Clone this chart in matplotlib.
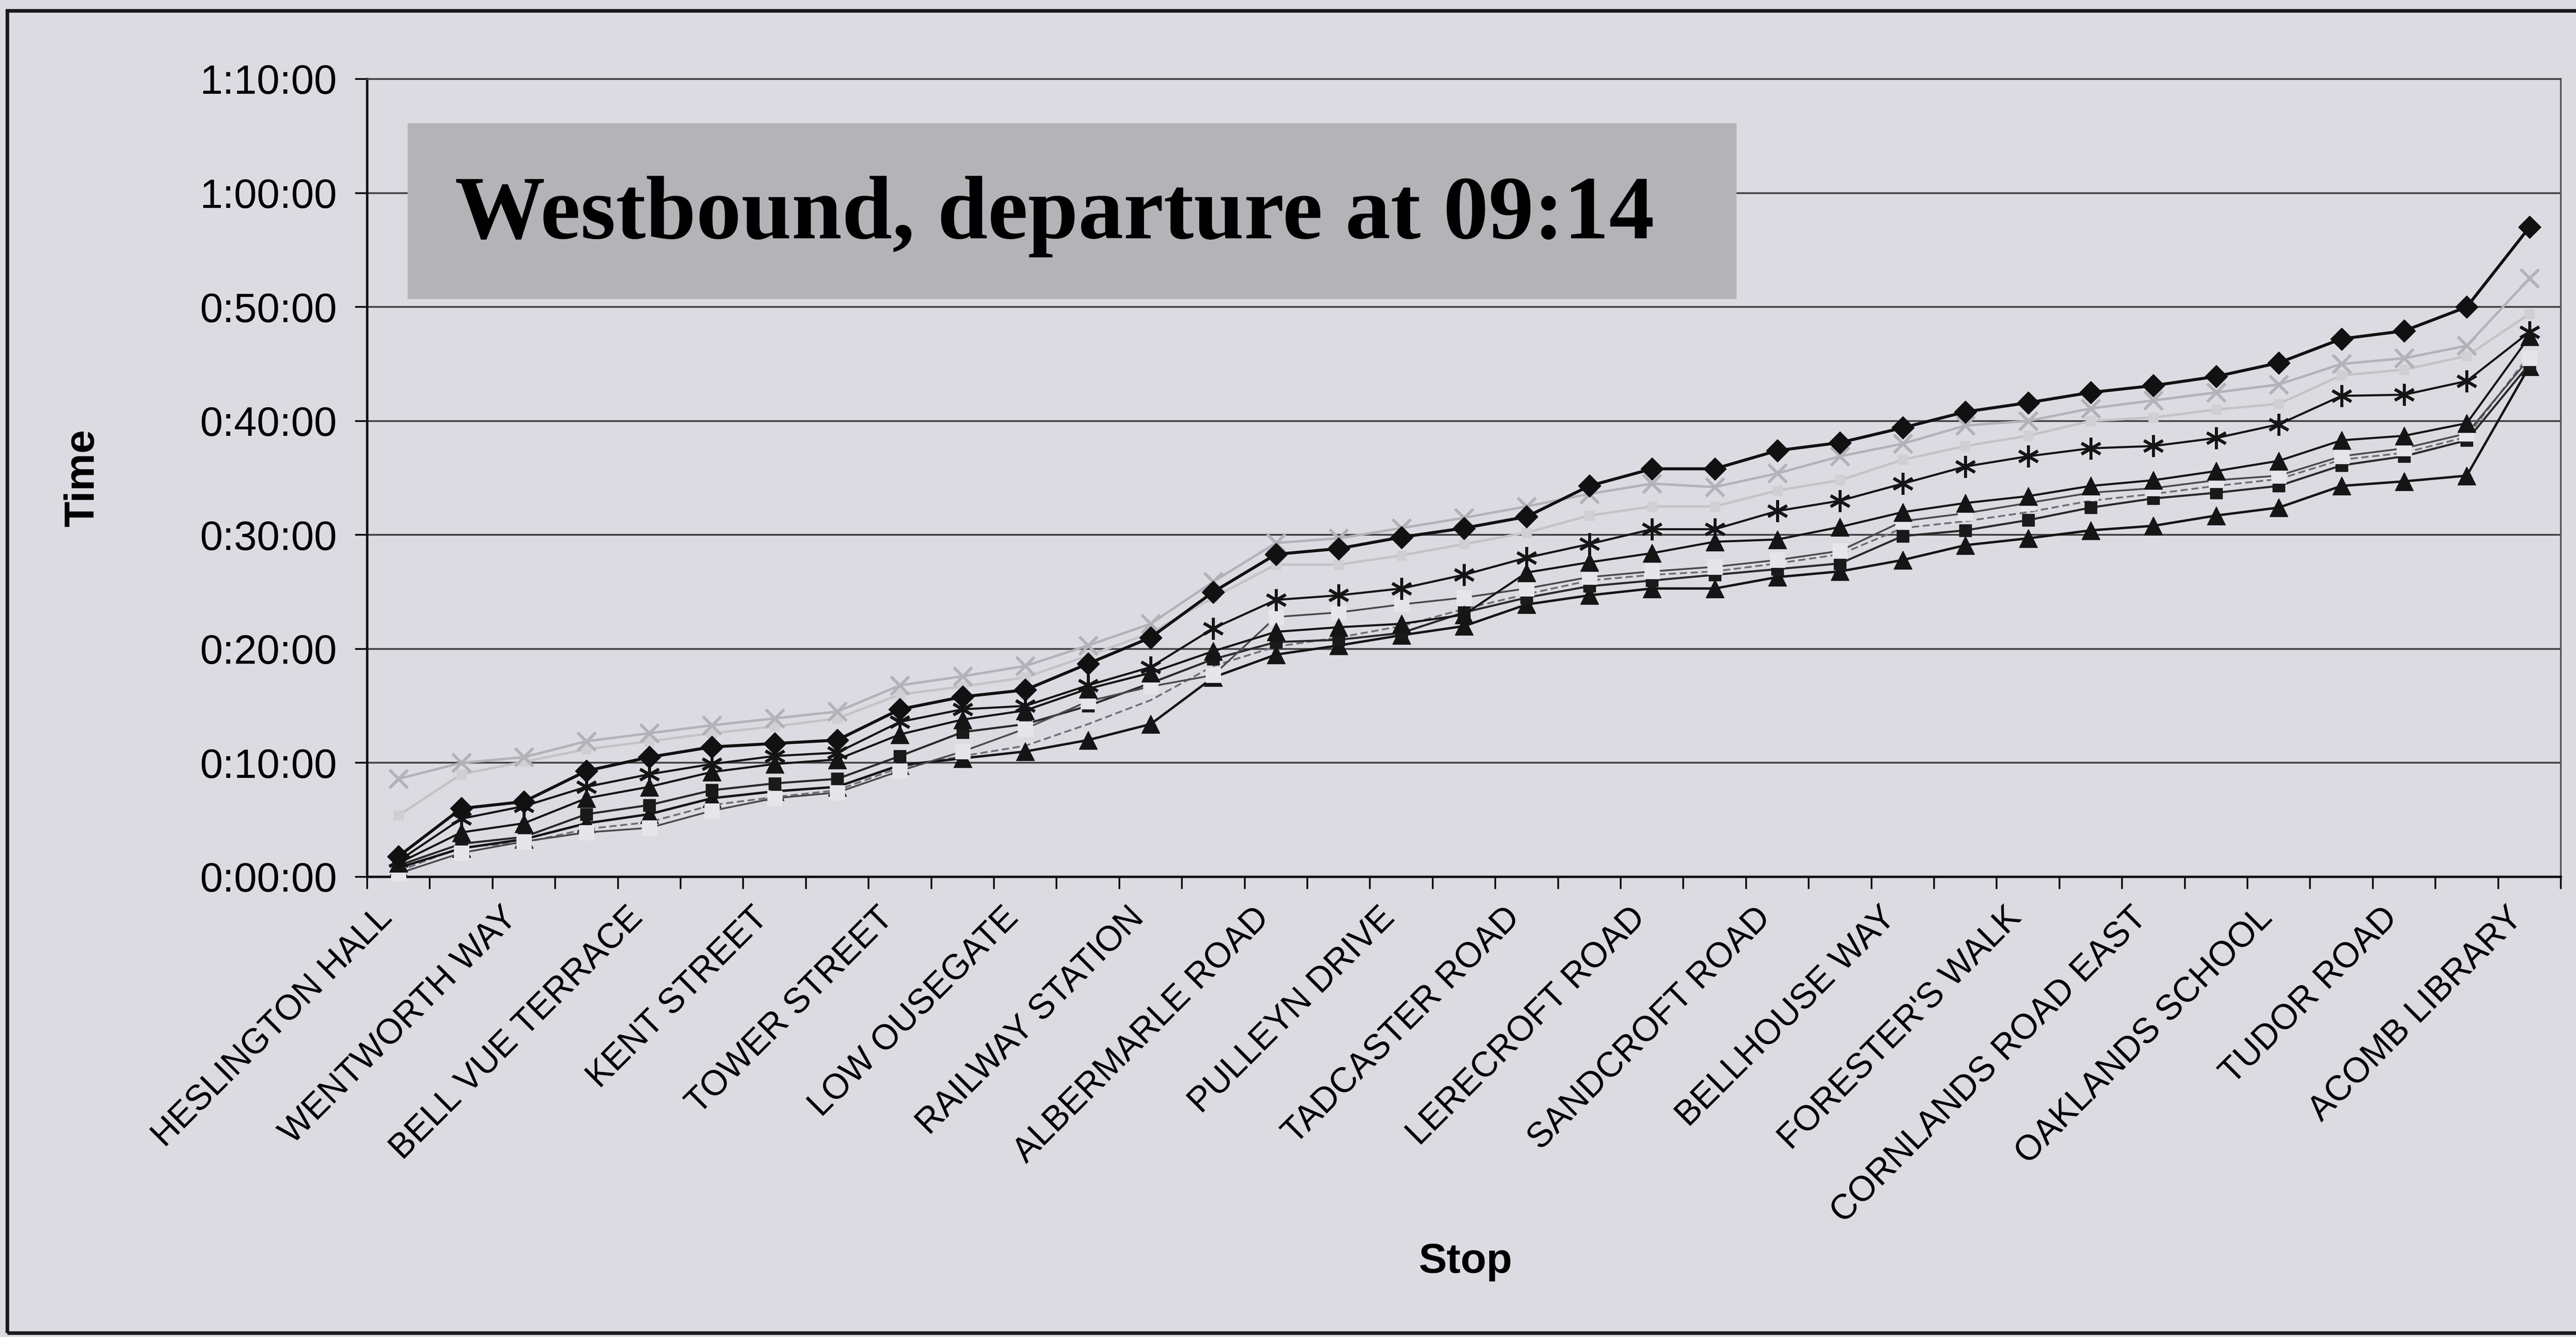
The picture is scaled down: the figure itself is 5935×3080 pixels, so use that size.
import numpy as np
import matplotlib.pyplot as plt
from matplotlib.patches import Rectangle
from matplotlib.ticker import FuncFormatter

# stops along the route (only every second stop is named on the axis)
n_stops = 35
stop_labels = ["HESLINGTON HALL", "WENTWORTH WAY", "BELL VUE TERRACE", "KENT STREET",
               "TOWER STREET", "LOW OUSEGATE", "RAILWAY STATION", "ALBERMARLE ROAD",
               "PULLEYN DRIVE", "TADCASTER ROAD", "LERECROFT ROAD", "SANDCROFT ROAD",
               "BELLHOUSE WAY", "FORESTER'S WALK", "CORNLANDS ROAD EAST", "OAKLANDS SCHOOL",
               "TUDOR ROAD", "ACOMB LIBRARY"]

# elapsed minutes at each stop, one list per observed run
run_1 = [1.8, 6.0, 6.6, 9.3, 10.5, 11.4, 11.7, 12.0, 14.7, 15.8, 16.4, 18.7, 21.0, 25.0, 28.3,
         28.8, 29.8, 30.6, 31.6, 34.3, 35.8, 35.8, 37.4, 38.1, 39.4, 40.8, 41.6, 42.5, 43.1,
         43.9, 45.1, 47.2, 47.9, 50.0, 57.0]
run_2 = [8.6, 10.0, 10.5, 11.9, 12.6, 13.3, 13.9, 14.5, 16.8, 17.6, 18.5, 20.3, 22.2, 25.9, 29.3,
         29.7, 30.6, 31.5, 32.5, 33.6, 34.5, 34.2, 35.4, 36.9, 38.0, 39.6, 40.0, 41.1, 41.8,
         42.5, 43.2, 45.0, 45.5, 46.6, 52.5]
run_3 = [5.4, 9.0, 10.1, 11.2, 11.9, 12.6, 13.2, 13.9, 16.0, 16.7, 17.5, 19.4, 21.4, 24.5, 27.4,
         27.4, 28.2, 29.2, 30.2, 31.7, 32.5, 32.5, 33.9, 34.8, 36.6, 37.8, 38.7, 40.0, 40.3,
         41.0, 41.5, 44.0, 44.5, 45.7, 49.4]
run_4 = [1.4, 5.1, 6.2, 7.9, 9.0, 9.9, 10.6, 10.9, 13.6, 14.7, 15.0, 16.8, 18.4, 21.8, 24.3,
         24.7, 25.3, 26.5, 28.0, 29.2, 30.5, 30.5, 32.1, 33.0, 34.5, 36.0, 36.9, 37.6, 37.8,
         38.5, 39.7, 42.2, 42.3, 43.5, 47.8]
run_5 = [1.2, 3.9, 4.7, 6.9, 7.9, 9.2, 9.9, 10.3, 12.5, 13.8, 14.6, 16.5, 17.9, 19.8, 21.5,
         21.9, 22.2, 23.0, 26.7, 27.6, 28.4, 29.4, 29.6, 30.7, 32.0, 32.8, 33.4, 34.3, 34.8,
         35.6, 36.5, 38.3, 38.7, 39.8, 47.4]
run_6 = [0.3, 2.1, 3.1, 3.9, 4.3, 5.8, 6.9, 7.4, 9.3, 11.0, 13.0, 15.4, 16.7, 17.7, 22.8,
         23.2, 23.9, 24.5, 25.3, 26.3, 26.8, 27.2, 27.8, 28.6, 31.2, 31.9, 32.8, 33.7, 34.1,
         34.8, 35.2, 36.9, 37.6, 38.9, 45.5]
run_7 = [1.0, 2.9, 3.5, 5.5, 6.3, 7.6, 8.2, 8.6, 10.6, 12.7, 13.4, 15.0, 17.0, 19.1, 20.6,
         20.8, 21.4, 23.2, 24.5, 25.5, 26.0, 26.5, 27.0, 27.5, 29.9, 30.4, 31.3, 32.4, 33.2,
         33.7, 34.3, 36.1, 36.9, 38.3, 45.0]
run_8 = [0.8, 2.5, 3.3, 4.7, 5.5, 6.9, 7.5, 7.9, 9.8, 10.4, 11.0, 12.0, 13.4, 17.5, 19.5,
         20.3, 21.2, 22.0, 23.9, 24.7, 25.3, 25.3, 26.3, 26.8, 27.8, 29.1, 29.7, 30.4, 30.8,
         31.7, 32.4, 34.3, 34.7, 35.2, 44.8]
run_9 = [0.5, 2.6, 3.0, 4.2, 4.8, 6.3, 7.0, 7.6, 9.6, 10.6, 11.5, 13.4, 15.5, 18.5, 20.2,
         21.0, 22.0, 23.5, 24.8, 26.0, 26.5, 26.8, 27.5, 28.3, 30.6, 31.2, 32.0, 33.0, 33.6,
         34.3, 34.9, 36.6, 37.2, 38.6, 45.8]

bg = "#dcdbe2"
x = np.arange(n_stops)

fig = plt.figure(figsize=(59.35, 30.8), dpi=100, facecolor=bg)
ax = fig.add_axes([0.14255, 0.34416, 0.85155, 0.59675], facecolor=bg)

# greyscale print of the usual spreadsheet series styles
styles = [
    (run_9, dict(color="#6f6f76", lw=3.0, ls=(0, (4, 2)), marker=None)),
    (run_8, dict(color="#151515", lw=4.0, marker="^", ms=30, mfc="#151515", mec="#151515")),
    (run_7, dict(color="#2a2a2a", lw=3.5, marker="s", ms=20, mfc="#1a1a1a", mec="#1a1a1a")),
    (run_6, dict(color="#4a4a4f", lw=3.0, marker="s", ms=24, mfc="#e6e6ea", mec="#e6e6ea")),
    (run_5, dict(color="#151515", lw=3.5, marker="^", ms=30, mfc="#151515", mec="#151515")),
    (run_4, dict(color="#151515", lw=3.5, marker=(6, 2, 0), ms=36, mec="#151515", mew=5)),
    (run_3, dict(color="#c3c3c8", lw=4.0, marker="s", ms=16, mfc="#cfcfd4", mec="#cfcfd4")),
    (run_2, dict(color="#b2b2b8", lw=4.0, marker="x", ms=30, mec="#b2b2b8", mew=5)),
    (run_1, dict(color="#111111", lw=5.0, marker="D", ms=26, mfc="#111111", mec="#111111")),
]
for i, (vals, kw) in enumerate(styles):
    ax.plot(x, vals, zorder=4 + i, clip_on=False, **kw)

ax.set_xlim(-0.5, n_stops - 0.5)
ax.set_ylim(0, 70)
ax.set_yticks(np.arange(0, 71, 10))
ax.yaxis.set_major_formatter(FuncFormatter(
    lambda v, pos: "{}:{:02d}:00".format(int(v) // 60, int(v) % 60)))
ax.yaxis.grid(True, color="#444444", lw=3.0)
ax.set_axisbelow(True)

# ticks sit on the category boundaries, names go on every second stop
ax.set_xticks(np.arange(-0.5, n_stops, 1))
ax.set_xticklabels([])
ax.set_xticks(x[::2], stop_labels, minor=True)
for lbl in ax.get_xticklabels(minor=True):
    lbl.set_rotation(45)
    lbl.set_ha("right")
    lbl.set_va("bottom")
    lbl.set_rotation_mode("anchor")

ax.tick_params(axis="x", which="major", length=20, width=3, direction="out", color="#111111")
ax.tick_params(axis="x", which="minor", length=0, pad=79, labelsize=58)
ax.tick_params(axis="y", which="major", length=20, width=3, direction="out", pad=30,
               labelsize=68, color="#111111")
for lbl in ax.get_xticklabels(minor=True) + ax.get_yticklabels():
    lbl.set_fontfamily("Liberation Sans")

ax.spines["left"].set_linewidth(4)
ax.spines["left"].set_color("#111111")
ax.spines["bottom"].set_linewidth(4)
ax.spines["bottom"].set_color("#111111")
ax.spines["right"].set_linewidth(2.8)
ax.spines["right"].set_color("#555555")
ax.spines["top"].set_linewidth(3.0)
ax.spines["top"].set_color("#444444")

fig.text(0.0322, 0.6427, "Time", rotation=90, ha="center", va="center",
         fontsize=70, fontweight="bold", family="Liberation Sans")
fig.text(0.5688, 0.0562, "Stop", ha="center", va="center",
         fontsize=70, fontweight="bold", family="Liberation Sans")

# grey title panel over the upper gridlines
fig.patches.append(Rectangle((0.1582, 0.7763), 0.5159, 0.1315, transform=fig.transFigure,
                             fc="#b4b3b8", ec="none", zorder=3))
fig.text(0.1766, 0.8218, "Westbound, departure at 09:14", ha="left", va="baseline",
         fontsize=150, fontweight="bold", family="Liberation Serif", zorder=4)

# outer chart frame
fig.patches.append(Rectangle((0.0029, 0.003), 1.1, 0.989, transform=fig.transFigure,
                             fill=False, lw=6, ec="#1a1a1a", zorder=5))

fig.savefig("out.png", dpi=100, facecolor=bg)
